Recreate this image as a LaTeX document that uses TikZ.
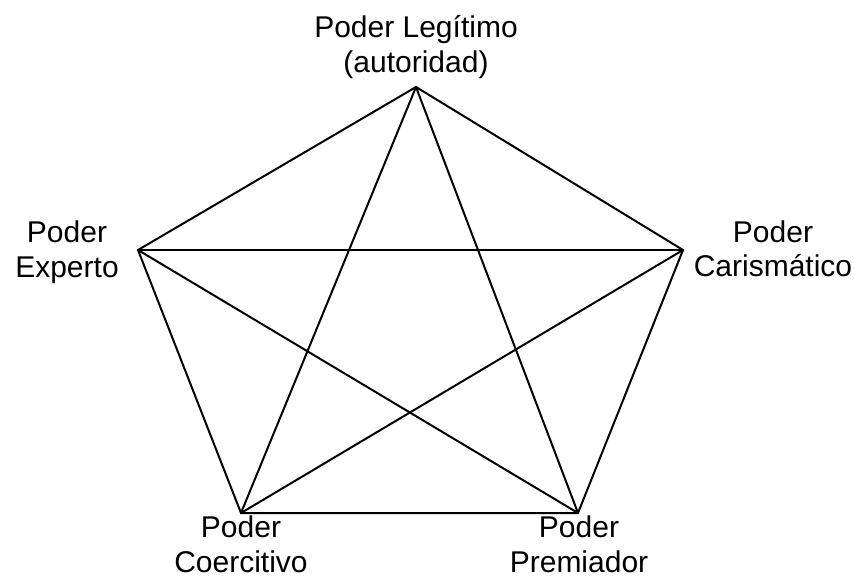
\documentclass[tikz,border=0pt]{standalone}
\usepackage{fontspec}
\setmainfont{Liberation Sans}
\usepackage{tikz}

\begin{document}
\begin{tikzpicture}[x=0.5pt, y=-0.5pt,
      lbl/.style={align=center, inner sep=0pt, font=\fontsize{15}{17.25}\selectfont},
      edge/.style={draw, line width=1pt, line join=miter},
      ]
      \useasboundingbox (0,0) rectangle (854,577);

      \node[coordinate] (leg) at (416,87) {};
      \node[coordinate] (exp) at (138,250) {};
      \node[coordinate] (car) at (683,250) {};
      \node[coordinate] (coe) at (241,513) {};
      \node[coordinate] (pre) at (578,513) {};

      \node[lbl, above of=leg, node distance=20pt] (legtxt) {Poder Legítimo\\(autoridad)};
      \node[lbl, left of=exp, node distance=35.5pt, yshift=-1pt] (exptxt) {Poder\\Experto};
      \node[lbl, right of=car, node distance=45pt, yshift=0.5pt] (cartxt) {Poder\\Carismático};
      \node[lbl, below of=coe, node distance=15.75pt] (coetxt) {Poder\\Coercitivo};
      \node[lbl, below of=pre, node distance=15.75pt, xshift=0.5pt] (pretxt) {Poder\\Premiador};

      % outer pentagon
      \draw[edge] (leg) -- (car) -- (pre) -- (coe) -- (exp) -- cycle;
      % star
      \draw[edge] (leg) -- (coe);
      \draw[edge] (leg) -- (pre);
      \draw[edge] (exp) -- (car);
      \draw[edge] (exp) -- (pre);
      \draw[edge] (car) -- (coe);

\end{tikzpicture}
\end{document}
